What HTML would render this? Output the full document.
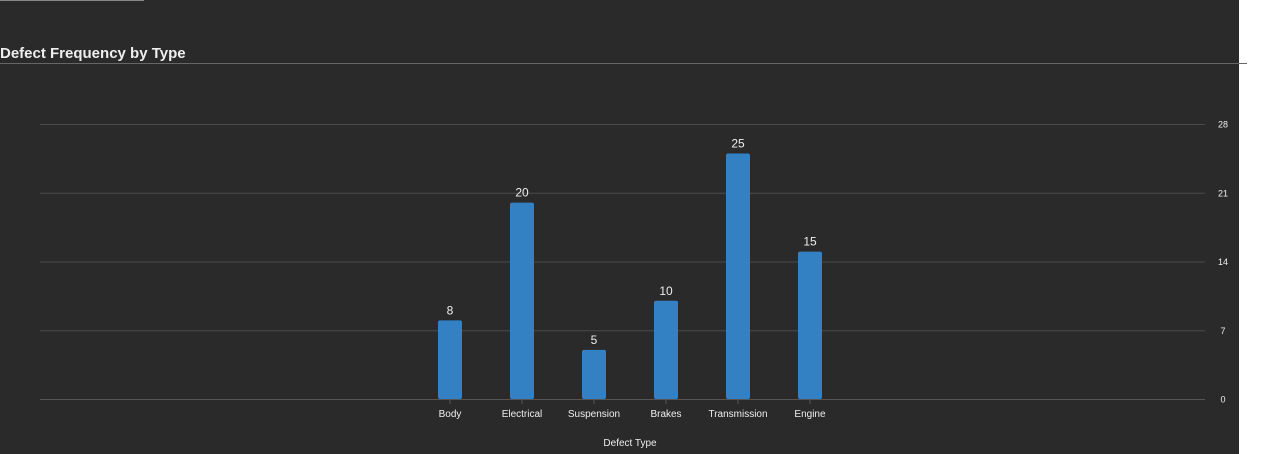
<!DOCTYPE html>
<html><head><meta charset="utf-8"><style>
html,body{margin:0;padding:0;width:1280px;height:454px;overflow:hidden;background:#fff;font-family:"Liberation Sans","DejaVu Sans",sans-serif}
#panel{position:absolute;left:0;top:0;width:1239px;height:454px;background:#2a2a2a}
</style></head><body>
<div id="panel"></div>
<svg id="chart" width="1280" height="454" style="position:absolute;left:0;top:0">
<line x1="0" y1="0.5" x2="144" y2="0.5" stroke="#888" stroke-width="1"/>
<text x="0" y="58" fill="#eee" font-size="15" font-weight="bold">Defect Frequency by Type</text>
<line x1="0" y1="63.5" x2="1247" y2="63.5" stroke="#666"/>
<text x="630" y="446" fill="#eee" font-size="10" text-anchor="middle">Defect Type</text>
<g id="grid"></g><g id="bars"></g>
</svg>
<script>
const categories=["Body","Electrical","Suspension","Brakes","Transmission","Engine"];
const values=[8,20,5,10,25,15];
const ticks=[0,7,14,21,28];
const NS="http://www.w3.org/2000/svg";
const y0=399,yTop=124,yMax=28;
function y(v){return y0-(v/yMax)*(y0-yTop);}
function x(i){return 450+i*72;}
const grid=document.getElementById('grid'),bars=document.getElementById('bars');
function mk(tag,attrs,parent){const e=document.createElementNS(NS,tag);for(const k in attrs)e.setAttribute(k,attrs[k]);parent.appendChild(e);return e;}
ticks.forEach(t=>{
 const l=mk('line',{x1:40,x2:1205,y1:y(t)+0.5,y2:y(t)+0.5,stroke:t===0?'#555':'#4a4a4a'},grid);
 
 
 const tx=mk('text',{x:1223,y:y(t)+3.5,fill:'#eee','font-size':9,'text-anchor':'middle'},grid);
 tx.textContent=t;
 
 
});
categories.forEach((c,i)=>{
 const cx=x(i);
 const r=mk('rect',{x:cx-12,y:y(values[i]),width:24,height:y0-y(values[i]),rx:2,fill:'#3380c2'},bars);
 
 
 const tk=mk('line',{x1:cx,x2:cx,y1:y0,y2:y0+5,stroke:'#555'},bars);
 
 
 const v=mk('text',{x:cx,y:y(values[i])-6,fill:'#eee','font-size':12,'text-anchor':'middle'},bars);
 v.textContent=values[i];
 
 
 const lb=mk('text',{x:cx,y:417,fill:'#eee','font-size':10,'text-anchor':'middle'},bars);
 lb.textContent=c;
 
 
});
</script>
</body></html>
